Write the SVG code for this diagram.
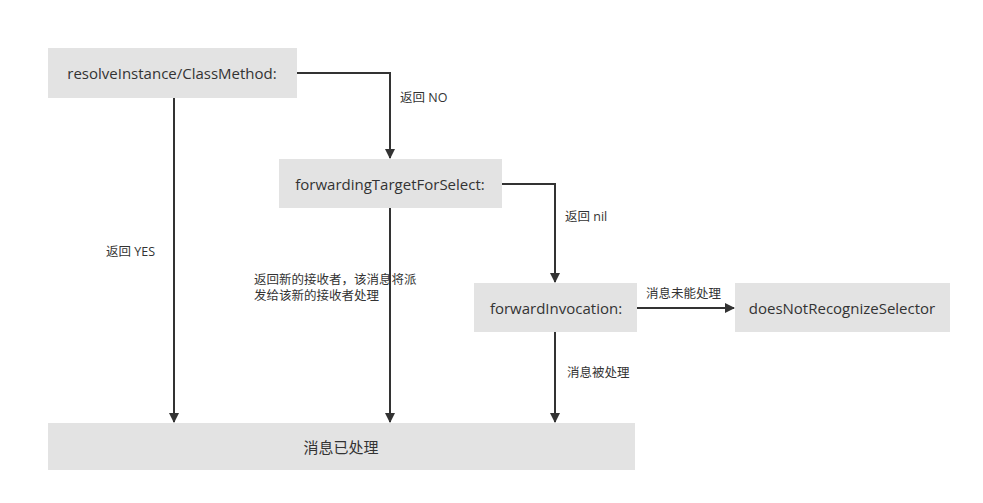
<svg xmlns="http://www.w3.org/2000/svg" width="983" height="503" viewBox="0 0 983 503">
<style>
.box{fill:#e3e3e3;}
.nt{font-family:"Open Sans","Noto Sans","Noto Sans CJK SC",sans-serif;font-size:15px;fill:#333;text-anchor:middle;dominant-baseline:central;}
.lb{font-family:"Open Sans","Noto Sans","Noto Sans CJK SC",sans-serif;font-size:12.5px;fill:#333;}
.ln{fill:none;stroke:#333;stroke-width:2;}
</style>
<defs>
<marker id="ah" markerWidth="10" markerHeight="10" refX="9" refY="5" orient="auto" markerUnits="userSpaceOnUse">
<path d="M0,0 L10,5 L0,10 Z" fill="#333"/>
</marker>
</defs>
<rect width="983" height="503" fill="#fff"/>
<g id="connectors">
<path class="ln" d="M297,73 H390 V158" marker-end="url(#ah)"/>
<path class="ln" d="M174,98 V422" marker-end="url(#ah)"/>
<path class="ln" d="M390,208 V422" marker-end="url(#ah)"/>
<path class="ln" d="M502,184 H555 V282" marker-end="url(#ah)"/>
<path class="ln" d="M637,308 H734" marker-end="url(#ah)"/>
<path class="ln" d="M555,332 V422" marker-end="url(#ah)"/>
<text class="lb" x="400" y="102">返回 NO</text>
<text class="lb" x="106" y="256">返回 YES</text>
<text class="lb" x="254" y="284">返回新的接收者，该消息将派</text>
<text class="lb" x="254" y="300">发给该新的接收者处理</text>
<text class="lb" x="565" y="221">返回 nil</text>
<text class="lb" x="646" y="298">消息未能处理</text>
<text class="lb" x="567" y="377">消息被处理</text>
</g>
<g id="n1"><rect class="box" x="48" y="48" width="249" height="50"/><text class="nt" x="172" y="73">resolveInstance/ClassMethod:</text></g>
<g id="n2"><rect class="box" x="279" y="159" width="223" height="49"/><text class="nt" x="390" y="184">forwardingTargetForSelect:</text></g>
<g id="n3"><rect class="box" x="474" y="283" width="163" height="49"/><text class="nt" x="556" y="308">forwardInvocation:</text></g>
<g id="n4"><rect class="box" x="735" y="283" width="215" height="49"/><text class="nt" x="842" y="308">doesNotRecognizeSelector</text></g>
<g id="n5"><rect class="box" x="48" y="423" width="587" height="47"/><text class="nt" x="341" y="447">消息已处理</text></g>
</svg>
